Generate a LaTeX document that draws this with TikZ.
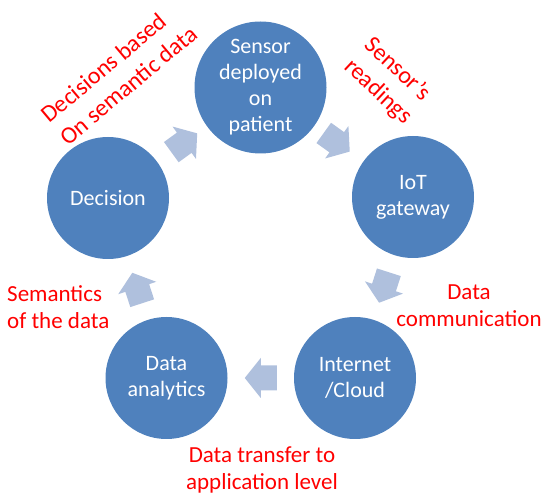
\documentclass[tikz,border=0pt]{standalone}
\usepackage{fontspec}
\setmainfont{Carlito}
\usetikzlibrary{calc}
\definecolor{circ}{HTML}{4F81BD}
\definecolor{arr}{HTML}{AFC0DD}
\newcommand\cyclearrow[2]{%
  \pgfmathanglebetweenpoints{\pgfpointanchor{#1}{center}}{\pgfpointanchor{#2}{center}}%
  \let\arrang\pgfmathresult
  \fill[blockarrow, shift={($(#1)!0.5!(#2)$)}, rotate=\arrang]
    (-16pt,-12.5pt) -- (0pt,-12.5pt) -- (0pt,-20pt) -- (16pt,0pt) --
    (0pt,20pt) -- (0pt,12.5pt) -- (-16pt,12.5pt) -- cycle;}
\begin{document}
\begin{tikzpicture}[x=1pt,y=-1pt,
  stage/.style={circle, fill=circ, text=white, inner sep=0pt,
    minimum size=122pt, align=center, font=\fontsize{22}{26}\selectfont},
  lbl/.style={text=red, inner sep=0pt, font=\fontsize{23}{27}\selectfont},
  rlbl/.style={text=red, inner sep=0pt, font=\fontsize{24}{29.5}\selectfont},
  blockarrow/.style={fill=arr}]
\useasboundingbox (0,0) rectangle (550,502);
\node[stage, minimum size=132pt] (sensor) at (260.5,87.5) {Sensor\\deployed\\on\\patient};
\node[stage] (iot) at (413,197) {IoT\\gateway};
\node[stage] (cloud) at (355,378) {Internet\\/Cloud};
\node[stage] (analytics) at (166.5,378) {Data\\analytics};
\node[stage] (decision) at (108,198) {Decision};
\cyclearrow{decision}{sensor}
\cyclearrow{sensor}{iot}
\cyclearrow{iot}{cloud}
\cyclearrow{cloud}{analytics}
\cyclearrow{analytics}{decision}
\node[rlbl, rotate=40, align=left] (ldec) at (119,74) {Decisions based\\On semantic data};
\node[rlbl, rotate=-43, align=left] (lsen) at (388,81) {Sensor’s\\readings};
\node[lbl, align=left, anchor=north west] (lsem) at (7,285) {Semantics\\of the data};
\node[lbl, align=center, anchor=north] (lcom) at (469,285) {Data\\communication};
\node[lbl, align=center, anchor=north] (ltra) at (262,447) {Data transfer to\\application level};
\end{tikzpicture}
\end{document}
